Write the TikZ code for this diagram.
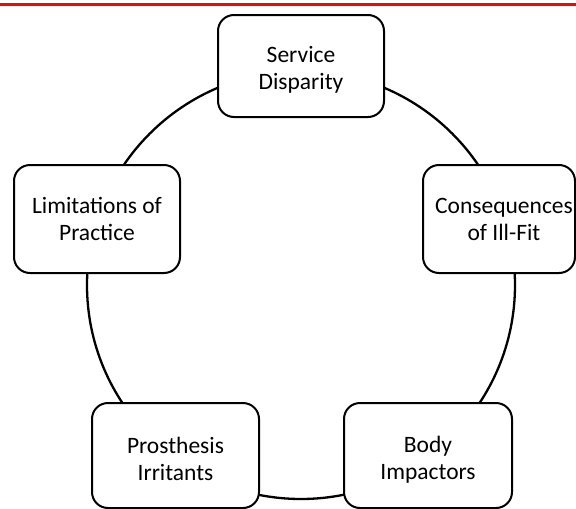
\documentclass[tikz,border=0pt]{standalone}
\usepackage{fontspec}
\setmainfont{Carlito}
\begin{document}
\begin{tikzpicture}[x=1pt,y=-1pt,
  topicbox/.style={draw=black, line width=2pt, rounded corners=16pt, fill=white,
    inner sep=0pt},
  topictext/.style={align=center, inner sep=0pt, text=black,
    font=\fontsize{23.5}{27}\selectfont},
  ring/.style={draw=black, line width=2.3pt}]
  % canvas
  \useasboundingbox (0,0) rectangle (576,509);
  \clip (0,0) rectangle (576,509);
  \fill[white] (0,0) rectangle (576,509);
  % red rule along the top
  \draw[red, line width=2.4pt] (0,4.5) -- (576,4.5);
  % the cycle
  \coordinate (c) at (301,285);
  \draw[ring] (c) circle[radius=214];
  % frames of the topics on the cycle
  \node[topicbox, minimum width=166pt, minimum height=102pt] (sd) at (301,66) {};
  \node[topicbox, minimum width=166pt, minimum height=108pt] (lp) at (97,219) {};
  \node[topicbox, minimum width=152pt, minimum height=108pt] (cf) at (499,219) {};
  \node[topicbox, minimum width=167pt, minimum height=105pt] (pi) at (175.5,455.5) {};
  \node[topicbox, minimum width=168pt, minimum height=105pt] (bi) at (428,455.5) {};
  % their captions
  \node[topictext] (sdt) at ([yshift=-4pt]sd.center) {Service\\Disparity};
  \node[topictext] (lpt) at ([yshift=0pt]lp.center) {Limitations of\\Practice};
  \node[topictext] (cft) at ([xshift=5pt,yshift=-0.5pt]cf.center) {Consequences\\of Ill-Fit};
  \node[topictext] (pit) at ([yshift=-3pt]pi.center) {Prosthesis\\Irritants};
  \node[topictext] (bit) at ([yshift=-4pt]bi.center) {Body\\Impactors};
\end{tikzpicture}
\end{document}
